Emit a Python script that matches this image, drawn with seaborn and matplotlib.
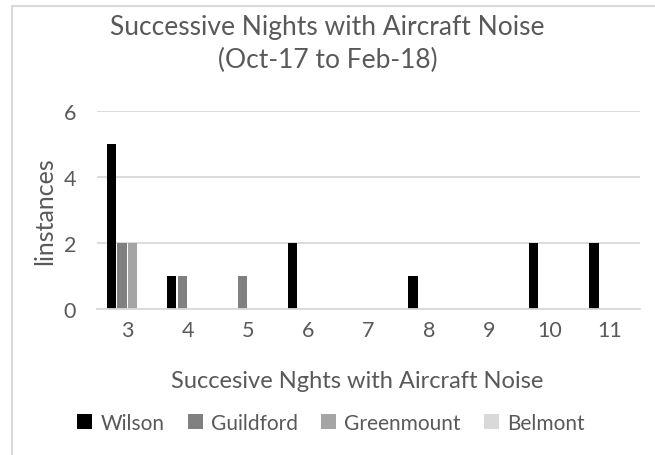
import matplotlib
matplotlib.use("Agg")
from matplotlib import pyplot as plt
from matplotlib.lines import Line2D
import seaborn as sns
import pandas as pd

nights = ["3", "4", "5", "6", "7", "8", "9", "10", "11"]
wilson = [5, 1, 0, 2, 0, 1, 0, 2, 2]
guildford = [2, 1, 1, 0, 0, 0, 0, 0, 0]
greenmount = [2, 0, 0, 0, 0, 0, 0, 0, 0]
belmont = [0, 0, 0, 0, 0, 0, 0, 0, 0]
areas = ["Wilson", "Guildford", "Greenmount", "Belmont"]
colors = ["#000000", "#808080", "#A5A5A5", "#D9D9D9"]

rows = []
for name, vals in zip(areas, [wilson, guildford, greenmount, belmont]):
    for n, v in zip(nights, vals):
        rows.append({"nights": n, "instances": v, "area": name})
df = pd.DataFrame(rows)

sns.set_style("white")
plt.rcParams["font.family"] = ["Lato", "DejaVu Sans"]
text_col = "#595959"
grid_col = "#D9D9D9"

fig = plt.figure(figsize=(6.55, 4.56), dpi=100)
ax = fig.add_axes([97 / 655, 1 - 310 / 456, 543 / 655, 198 / 456])

sns.barplot(data=df, x="nights", y="instances", hue="area", order=nights,
            hue_order=areas, palette=colors, width=0.70, gap=0.12,
            saturation=1, linewidth=0, ax=ax, legend=True)

ax.set_ylim(0, 6)
ax.set_yticks([0, 2, 4, 6])
ax.yaxis.grid(True, color=grid_col, linewidth=1.3)
ax.set_axisbelow(True)
for s in ["top", "right", "left"]:
    ax.spines[s].set_visible(False)
ax.spines["bottom"].set_color(grid_col)
ax.spines["bottom"].set_linewidth(1.3)
ax.tick_params(axis="both", length=0, labelsize=15.5, labelcolor=text_col)
ax.tick_params(axis="x", pad=8)
ax.tick_params(axis="y", pad=15)

ax.set_xlabel("Succesive Nghts with Aircraft Noise", fontsize=17, color=text_col)
ax.set_ylabel("linstances", fontsize=18, color=text_col)
ax.xaxis.set_label_coords((357 - 97) / 543, -0.31)
ax.yaxis.set_label_coords((45 - 97) / 543, 0.5)
ax.yaxis.label.set_va("center")

fig.text(0.5, 1 - 44 / 456, "Successive Nights with Aircraft Noise\n(Oct-17 to Feb-18)",
         ha="center", va="center", fontsize=19, color=text_col, linespacing=1.38)

handles, labels = ax.get_legend_handles_labels()
ax.legend(handles, labels, loc="center", bbox_to_anchor=(331 / 655, 1 - 424 / 456),
          bbox_transform=fig.transFigure, ncol=4, frameon=False, fontsize=15,
          labelcolor=text_col, handlelength=0.72, handleheight=0.72,
          handletextpad=0.4, columnspacing=1.1)

# chart border (only left and top edges visible)
fig.add_artist(Line2D([12 / 655, 12 / 655], [0, 1 - 7 / 456], color=grid_col,
                      linewidth=1.5, transform=fig.transFigure))
fig.add_artist(Line2D([12 / 655, 1], [1 - 7 / 456, 1 - 7 / 456], color=grid_col,
                      linewidth=1.5, transform=fig.transFigure))

fig.savefig("out.png", dpi=100)
